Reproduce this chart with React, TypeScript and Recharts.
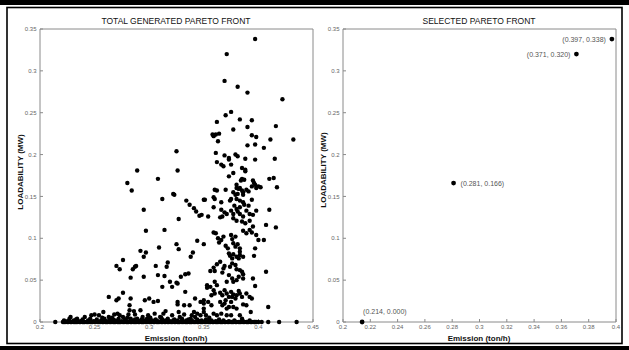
import { ScatterChart, Scatter, XAxis, YAxis } from 'recharts';

type Pt = [number, number];

// emission (ton/h), loadability (MW)
const upperPoints: Pt[] = [
  [0.397, 0.338], [0.371, 0.32], [0.369, 0.288], [0.381, 0.281], [0.39, 0.274], [0.422, 0.266],
  [0.37, 0.247], [0.375, 0.251], [0.383, 0.242], [0.394, 0.241], [0.362, 0.239], [0.39, 0.233],
  [0.416, 0.234], [0.377, 0.23], [0.358, 0.224], [0.359, 0.222], [0.361, 0.224], [0.364, 0.225],
  [0.363, 0.216], [0.394, 0.223], [0.398, 0.221], [0.411, 0.218], [0.432, 0.218], [0.39, 0.211],
  [0.397, 0.212], [0.405, 0.208], [0.325, 0.204], [0.361, 0.202], [0.369, 0.199], [0.373, 0.196],
  [0.373, 0.194], [0.379, 0.2], [0.381, 0.198], [0.388, 0.195], [0.397, 0.194], [0.415, 0.195],
  [0.362, 0.191], [0.366, 0.188], [0.368, 0.186], [0.375, 0.188], [0.385, 0.184], [0.388, 0.182],
  [0.388, 0.18], [0.289, 0.181], [0.326, 0.181], [0.377, 0.178], [0.373, 0.174], [0.385, 0.171],
  [0.384, 0.169], [0.387, 0.17], [0.395, 0.169], [0.41, 0.171], [0.414, 0.172],
];

const middlePoints: Pt[] = [
  [0.396, 0.166], [0.417, 0.161], [0.38, 0.164], [0.38, 0.16], [0.382, 0.159], [0.383, 0.16],
  [0.385, 0.157], [0.386, 0.155], [0.389, 0.158], [0.391, 0.156], [0.394, 0.162], [0.397, 0.164],
  [0.398, 0.16], [0.4, 0.162], [0.402, 0.161], [0.36, 0.158], [0.362, 0.157], [0.37, 0.158],
  [0.377, 0.155], [0.379, 0.152], [0.381, 0.153], [0.386, 0.152], [0.351, 0.146], [0.359, 0.149],
  [0.36, 0.147], [0.375, 0.147], [0.374, 0.145], [0.38, 0.147], [0.383, 0.145], [0.386, 0.143],
  [0.387, 0.14], [0.394, 0.146], [0.366, 0.143], [0.378, 0.139], [0.383, 0.137], [0.391, 0.139],
  [0.359, 0.137], [0.41, 0.134], [0.366, 0.134], [0.369, 0.131], [0.371, 0.129], [0.375, 0.133],
  [0.377, 0.129], [0.38, 0.135], [0.381, 0.132], [0.383, 0.129], [0.386, 0.126], [0.389, 0.133],
  [0.392, 0.129], [0.395, 0.128], [0.398, 0.133], [0.348, 0.128], [0.354, 0.126], [0.365, 0.125],
  [0.367, 0.126], [0.28, 0.166], [0.284, 0.157], [0.308, 0.171], [0.312, 0.147], [0.322, 0.153],
  [0.323, 0.152], [0.295, 0.134], [0.334, 0.145], [0.337, 0.14], [0.341, 0.136], [0.343, 0.132],
  [0.346, 0.127], [0.35, 0.146], [0.327, 0.123], [0.297, 0.109], [0.314, 0.11], [0.344, 0.097],
  [0.35, 0.093], [0.309, 0.089], [0.325, 0.093], [0.327, 0.087], [0.292, 0.085], [0.297, 0.083],
  [0.295, 0.078], [0.276, 0.074], [0.27, 0.067], [0.273, 0.063], [0.285, 0.063], [0.287, 0.066],
  [0.288, 0.067], [0.306, 0.067], [0.316, 0.066], [0.317, 0.071], [0.283, 0.053], [0.295, 0.054],
  [0.308, 0.056], [0.314, 0.055], [0.329, 0.054], [0.333, 0.057], [0.336, 0.058], [0.338, 0.078],
  [0.34, 0.083], [0.377, 0.124], [0.38, 0.121], [0.385, 0.12], [0.388, 0.118], [0.392, 0.121],
  [0.395, 0.114], [0.407, 0.116], [0.416, 0.113], [0.359, 0.107], [0.361, 0.106], [0.363, 0.1],
  [0.366, 0.098], [0.364, 0.095], [0.368, 0.102], [0.37, 0.091], [0.372, 0.088], [0.375, 0.104],
  [0.376, 0.099], [0.379, 0.102], [0.377, 0.094], [0.379, 0.09], [0.381, 0.093], [0.383, 0.088],
  [0.383, 0.084], [0.386, 0.109], [0.389, 0.106], [0.392, 0.11], [0.394, 0.107], [0.398, 0.104],
  [0.4, 0.098], [0.405, 0.098], [0.397, 0.088], [0.373, 0.082], [0.374, 0.079], [0.376, 0.076],
  [0.377, 0.081], [0.38, 0.078], [0.382, 0.076], [0.383, 0.08], [0.386, 0.078], [0.396, 0.079],
  [0.365, 0.072], [0.362, 0.069], [0.359, 0.065], [0.36, 0.061], [0.356, 0.061], [0.368, 0.064],
  [0.369, 0.067], [0.367, 0.059], [0.374, 0.066], [0.376, 0.07], [0.379, 0.068], [0.38, 0.063],
  [0.383, 0.062], [0.385, 0.06], [0.386, 0.057], [0.386, 0.052], [0.382, 0.054], [0.38, 0.05],
  [0.377, 0.048], [0.373, 0.056], [0.376, 0.052], [0.371, 0.048], [0.395, 0.052], [0.407, 0.06],
  [0.36, 0.048], [0.319, 0.048],
];

const lowerPoints: Pt[] = [
  [0.353, 0.044], [0.353, 0.041], [0.356, 0.042], [0.362, 0.044], [0.397, 0.043], [0.321, 0.042],
  [0.312, 0.042], [0.325, 0.047], [0.326, 0.046], [0.333, 0.036], [0.263, 0.03], [0.27, 0.026],
  [0.272, 0.028], [0.276, 0.035], [0.283, 0.028], [0.282, 0.02], [0.282, 0.014], [0.286, 0.013],
  [0.287, 0.009], [0.296, 0.026], [0.3, 0.028], [0.304, 0.024], [0.308, 0.025], [0.292, 0.014],
  [0.313, 0.01], [0.315, 0.013], [0.326, 0.024], [0.326, 0.021], [0.332, 0.02], [0.337, 0.02],
  [0.342, 0.028], [0.327, 0.012], [0.341, 0.012], [0.344, 0.01], [0.35, 0.026], [0.35, 0.016],
  [0.359, 0.038], [0.36, 0.034], [0.357, 0.032], [0.365, 0.035], [0.367, 0.032], [0.369, 0.038],
  [0.371, 0.034], [0.373, 0.03], [0.37, 0.026], [0.375, 0.036], [0.376, 0.03], [0.377, 0.033],
  [0.379, 0.028], [0.38, 0.032], [0.382, 0.037], [0.383, 0.034], [0.385, 0.03], [0.389, 0.034],
  [0.392, 0.03], [0.394, 0.028], [0.347, 0.024], [0.35, 0.022], [0.354, 0.024], [0.357, 0.02],
  [0.365, 0.024], [0.367, 0.02], [0.369, 0.022], [0.371, 0.016], [0.373, 0.018], [0.375, 0.024],
  [0.377, 0.018], [0.38, 0.016], [0.386, 0.021], [0.389, 0.02], [0.393, 0.012], [0.409, 0.018],
  [0.35, 0.012], [0.352, 0.008], [0.355, 0.005], [0.359, 0.01], [0.362, 0.008], [0.366, 0.01],
  [0.371, 0.008], [0.375, 0.008], [0.383, 0.008], [0.385, 0.004], [0.222, 0.002], [0.228, 0.006],
  [0.227, 0.004], [0.234, 0.004], [0.241, 0.006], [0.247, 0.008], [0.25, 0.009], [0.254, 0.008],
  [0.258, 0.012], [0.263, 0.006], [0.268, 0.009], [0.271, 0.01], [0.273, 0.008], [0.276, 0.006],
  [0.281, 0.009], [0.289, 0.004], [0.294, 0.006], [0.299, 0.008], [0.301, 0.005], [0.305, 0.01],
  [0.31, 0.006], [0.321, 0.008], [0.328, 0.006], [0.332, 0.009], [0.339, 0.008], [0.342, 0.006],
  [0.347, 0.008], [0.225, 0.001], [0.231, 0.002], [0.237, 0.001], [0.239, 0.003], [0.244, 0.002],
  [0.249, 0.001], [0.252, 0.003], [0.256, 0.002], [0.259, 0.004], [0.261, 0.001], [0.264, 0.003],
  [0.266, 0.005], [0.269, 0.002], [0.272, 0.004], [0.275, 0.001], [0.278, 0.003], [0.28, 0.005],
  [0.284, 0.002], [0.287, 0.003], [0.291, 0.001], [0.293, 0.003], [0.296, 0.002], [0.298, 0.004],
  [0.303, 0.002], [0.306, 0.003], [0.308, 0.001], [0.312, 0.003], [0.315, 0.002], [0.317, 0.004],
  [0.319, 0.001], [0.323, 0.003], [0.326, 0.002], [0.33, 0.004], [0.334, 0.002], [0.336, 0.003],
  [0.34, 0.001], [0.344, 0.003], [0.348, 0.002], [0.352, 0.003], [0.357, 0.002], [0.361, 0.001],
  [0.368, 0.002], [0.373, 0.001], [0.378, 0.002], [0.386, 0.001], [0.392, 0.002], [0.233, 0.003],
  [0.246, 0.004], [0.257, 0.005], [0.267, 0.003], [0.283, 0.004], [0.3, 0.003], [0.311, 0.005],
  [0.322, 0.002], [0.331, 0.001], [0.338, 0.004], [0.346, 0.001], [0.354, 0.002], [0.364, 0.003],
];

// solutions lying on zero loadability (a solid band in the picture)
const baselineEmission: number[] = [
  0.214, 0.221, 0.222, 0.223, 0.225, 0.226, 0.228, 0.229, 0.231, 0.232, 0.233, 0.234, 0.236, 0.237,
  0.239, 0.24, 0.241, 0.243, 0.244, 0.246, 0.247, 0.248, 0.25, 0.251, 0.253, 0.254, 0.255, 0.257,
  0.258, 0.26, 0.261, 0.262, 0.264, 0.265, 0.267, 0.268, 0.269, 0.271, 0.272, 0.273, 0.274, 0.276,
  0.277, 0.279, 0.28, 0.281, 0.283, 0.284, 0.286, 0.287, 0.288, 0.29, 0.291, 0.293, 0.294, 0.295,
  0.297, 0.298, 0.3, 0.301, 0.302, 0.304, 0.305, 0.307, 0.308, 0.309, 0.311, 0.312, 0.314, 0.315,
  0.317, 0.318, 0.32, 0.321, 0.323, 0.324, 0.326, 0.327, 0.328, 0.33, 0.331, 0.333, 0.334, 0.335,
  0.337, 0.338, 0.339, 0.341, 0.342, 0.344, 0.345, 0.347, 0.348, 0.349, 0.351, 0.352, 0.354, 0.355,
  0.356, 0.358, 0.359, 0.361, 0.362, 0.363, 0.365, 0.366, 0.367, 0.369, 0.37, 0.372, 0.373, 0.375,
  0.376, 0.377, 0.379, 0.38, 0.382, 0.383, 0.384, 0.386, 0.387, 0.389, 0.39, 0.391, 0.393, 0.394,
  0.396, 0.397, 0.398, 0.4, 0.403, 0.409, 0.419, 0.435,
];

const selectedEmission = [0.214, 0.281, 0.371, 0.397];
const selectedLoadability = [0.0, 0.166, 0.32, 0.338];

const leftXTicks = [0.2, 0.25, 0.3, 0.35, 0.4, 0.45];
const rightXTicks = [0.2, 0.22, 0.24, 0.26, 0.28, 0.3, 0.32, 0.34, 0.36, 0.38, 0.4];
const yTicks = [0, 0.05, 0.1, 0.15, 0.2, 0.25, 0.3, 0.35];

const totalFront = [...upperPoints, ...middlePoints, ...lowerPoints]
  .map(([x, y]) => ({ x, y }))
  .concat(baselineEmission.map((x) => ({ x, y: 0 })));

const selectedFront = selectedEmission.map((x, i) => ({
  x,
  y: selectedLoadability[i],
  i,
  label: `(${x.toFixed(3)}, ${selectedLoadability[i].toFixed(3)})`,
}));

// where each selected point's label sits
const labelPlace = ['above', 'right', 'left', 'left'];

const FONT = '"Liberation Sans", Arial, sans-serif';
const AXIS = '#8a8a8a';
const tickStyle = { fontSize: 6, fill: '#666', fontFamily: FONT };

const Dot = (p: any) => <circle cx={p.cx} cy={p.cy} r={2.2} fill="#000" />;

const SelectedDot = (p: any) => {
  const place = labelPlace[p.payload.i];
  let tx = p.cx + 7;
  let ty = p.cy;
  let anchor: 'start' | 'end' = 'start';
  if (place === 'above') {
    tx = p.cx + 1;
    ty = p.cy - 11;
  } else if (place === 'left') {
    tx = p.cx - 6;
    anchor = 'end';
  }
  return (
    <g>
      <circle cx={p.cx} cy={p.cy} r={2.4} fill="#000" />
      <text x={tx} y={ty} textAnchor={anchor} dominantBaseline="central" fontSize={7} fill="#555" fontFamily={FONT}>
        {p.payload.label}
      </text>
    </g>
  );
};

const Panel = ({ left, width, marginLeft, marginRight, domain, xTicks, data, shape, xTickMargin, yTickMargin }: any) => (
  <div style={{ position: 'absolute', left, top: 0 }}>
    <ScatterChart width={width} height={350} margin={{ top: 28, right: marginRight, bottom: 12, left: marginLeft }}>
      <XAxis
        xAxisId="b" type="number" dataKey="x" domain={domain} ticks={xTicks} interval={0}
        height={16} tickSize={-3} tickMargin={xTickMargin} stroke={AXIS} tick={tickStyle}
      />
      <XAxis
        xAxisId="t" orientation="top" type="number" dataKey="x" domain={domain} ticks={xTicks} interval={0}
        height={1} tickSize={-3} stroke={AXIS} tick={false} allowDataOverflow
      />
      <YAxis
        yAxisId="l" type="number" dataKey="y" domain={[0, 0.35]} ticks={yTicks} interval={0}
        width={30} tickSize={-3} tickMargin={yTickMargin} stroke={AXIS} tick={tickStyle}
      />
      <YAxis
        yAxisId="r" orientation="right" type="number" dataKey="y" domain={[0, 0.35]} ticks={yTicks} interval={0}
        width={1} tickSize={-3} stroke={AXIS} tick={false} allowDataOverflow
      />
      <Scatter xAxisId="b" yAxisId="l" data={data} shape={shape} isAnimationActive={false} />
    </ScatterChart>
  </div>
);

export default function App() {
  return (
    <div style={{ position: 'absolute', left: 0, top: 0, width: 629, height: 350, background: '#fff' }}>
      <Panel
        left={0} width={320} marginLeft={10} marginRight={6} domain={[0.2, 0.45]} xTicks={leftXTicks}
        data={totalFront} shape={Dot} xTickMargin={5.5} yTickMargin={6.5}
      />
      <Panel
        left={310} width={319} marginLeft={3} marginRight={12} domain={[0.2, 0.4]} xTicks={rightXTicks}
        data={selectedFront} shape={SelectedDot} xTickMargin={5.5} yTickMargin={6.5}
      />
      <svg width={629} height={350} style={{ position: 'absolute', left: 0, top: 0, pointerEvents: 'none' }}>
        <rect x={0} y={0} width={629} height={5} fill="#000" />
        <rect x={7} y={7.5} width={615} height={336} fill="none" stroke="#000" strokeWidth={1.6} />
        <rect x={0} y={346} width={629} height={4} fill="#000" />
        <g fontFamily={FONT} fill="#111">
          <text x={176} y={20.5} textAnchor="middle" dominantBaseline="central" fontSize={8.5}>TOTAL GENERATED PARETO FRONT</text>
          <text x={479} y={20.5} textAnchor="middle" dominantBaseline="central" fontSize={8.5}>SELECTED PARETO FRONT</text>
          <text x={176} y={338} textAnchor="middle" dominantBaseline="central" fontSize={8} fontWeight="bold">Emission (ton/h)</text>
          <text x={479} y={338} textAnchor="middle" dominantBaseline="central" fontSize={8} fontWeight="bold">Emission (ton/h)</text>
          <text x={20} y={172} textAnchor="middle" dominantBaseline="central" fontSize={8} fontWeight="bold" transform="rotate(-90 20 172)">LOADABILITY (MW)</text>
          <text x={323} y={170} textAnchor="middle" dominantBaseline="central" fontSize={8} fontWeight="bold" transform="rotate(-90 323 170)">LOADABILITY (MW)</text>
        </g>
      </svg>
    </div>
  );
}
